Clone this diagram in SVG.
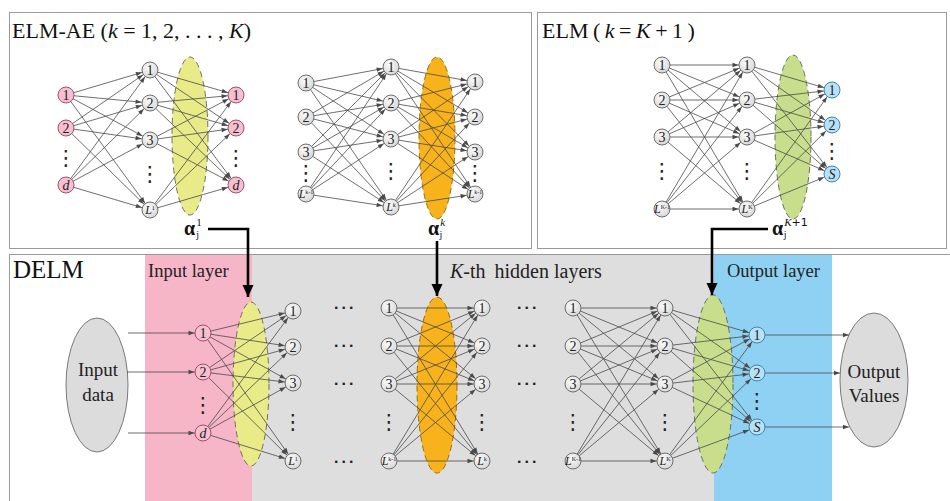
<svg xmlns="http://www.w3.org/2000/svg" width="950" height="501" viewBox="0 0 950 501">
<defs>
<radialGradient id="gg" cx="0.4" cy="0.35" r="0.7">
<stop offset="0" stop-color="#fbfbfb"/>
<stop offset="1" stop-color="#d6d6d6"/>
</radialGradient>
<marker id="ah" markerUnits="userSpaceOnUse" markerWidth="6" markerHeight="4.4" refX="14.5" refY="2.2" orient="auto" overflow="visible">
<path d="M0,0 L6,2.2 L0,4.4 z" fill="#4a4a4a"/>
</marker>
<marker id="ah0" markerUnits="userSpaceOnUse" markerWidth="6" markerHeight="4.4" refX="6" refY="2.2" orient="auto" overflow="visible">
<path d="M0,0 L6,2.2 L0,4.4 z" fill="#4a4a4a"/>
</marker>
<marker id="big" markerUnits="userSpaceOnUse" markerWidth="12" markerHeight="11" refX="12" refY="5.5" orient="auto" overflow="visible">
<path d="M0,0 L12,5.5 L0,11 z" fill="#000"/>
</marker>
</defs>
<style>
.panel{fill:#fff;stroke:#9a9a9a;stroke-width:1}
.ttl{font-family:"Liberation Serif",serif;fill:#111}
.lbl{font-family:"Liberation Serif",serif;fill:#222}
.nd circle{stroke-width:1}
.gr circle{fill:url(#gg);stroke:#6e6e6e}
.pk circle{fill:#f6c0d1;stroke:#a24f6c}
.bl circle{fill:#b9e1f6;stroke:#3d84b1}
.nd text{font-family:"Liberation Serif",serif;font-size:14px;text-anchor:middle;fill:#222}
.nd text.L{font-size:12px;font-style:italic}
.sup{font-size:6px;font-style:normal}
.edges line{stroke:#4a4a4a;stroke-width:0.8;marker-end:url(#ah)}
.edges line.to-ell{marker-end:url(#ah0)}
.yl{fill:#e8eb88;stroke:#707060;stroke-width:1;stroke-dasharray:6 4}
.or{fill:#f8b21c;stroke:#9a6e10;stroke-width:1;stroke-dasharray:6 4}
.gn{fill:#c8de8c;stroke:#66755a;stroke-width:1;stroke-dasharray:6 4}
.vd{font-family:"DejaVu Sans",sans-serif;font-size:21px;text-anchor:middle;fill:#222}
.hd{font-family:"DejaVu Sans",sans-serif;font-size:13px;font-weight:bold;letter-spacing:2.5px;text-anchor:middle;fill:#222}
.io ellipse{fill:#dcdcdc;stroke:#7a7a7a;stroke-width:1}
.io text{font-family:"Liberation Serif",serif;font-size:19px;text-anchor:middle;fill:#222}
.alpha{font-family:"Liberation Serif",serif;fill:#111}
.bold-arrow{fill:none;stroke:#000;stroke-width:2.6;marker-end:url(#big)}
</style>

<!-- panels -->
<rect class="panel" x="9.5" y="12.5" width="522" height="236"/>
<rect class="panel" x="537.5" y="12.5" width="409" height="236"/>
<rect class="panel" x="9.5" y="254.5" width="950" height="260"/>

<!-- layer bands of the DELM panel -->
<rect x="145" y="255" width="107" height="246" fill="#f7b5c8"/>
<rect x="252" y="255" width="462" height="246" fill="#dedede"/>
<rect x="714" y="255" width="118" height="246" fill="#8fd1f2"/>

<!-- titles -->
<text class="ttl" x="12" y="38" font-size="22">ELM-AE (<tspan font-style="italic">k</tspan> = 1, 2, . . . , <tspan font-style="italic">K</tspan>)</text>
<text class="ttl" x="542" y="38" font-size="22" word-spacing="-1">ELM ( <tspan font-style="italic">k</tspan> = <tspan font-style="italic">K</tspan> + 1 )</text>
<text class="ttl" x="13" y="278" font-size="25">DELM</text>
<text class="lbl" x="148" y="277" font-size="18.5">Input layer</text>
<text class="lbl" x="450" y="278" font-size="20"><tspan font-style="italic">K</tspan>-th <tspan dx="4">hidden layers</tspan></text>
<text class="lbl" x="727" y="277" font-size="18.5">Output layer</text>

<!-- weight ellipses -->
<ellipse class="yl" cx="190" cy="136" rx="18" ry="79"/>
<ellipse class="or" cx="437" cy="138" rx="18" ry="81"/>
<ellipse class="gn" cx="793" cy="137" rx="18" ry="82"/>
<ellipse class="yl" cx="251" cy="384" rx="18" ry="82"/>
<ellipse class="or" cx="437" cy="385" rx="20" ry="88"/>
<ellipse class="gn" cx="713" cy="384" rx="20" ry="89"/>

<!-- input / output data -->
<g id="input-data" class="io">
<ellipse cx="97" cy="385" rx="31" ry="67"/>
<text x="98" y="376">Input</text>
<text x="98" y="401">data</text>
</g>
<g id="output-values" class="io">
<ellipse cx="874" cy="380" rx="34" ry="67"/>
<text x="874" y="378">Output</text>
<text x="874" y="402">Values</text>
</g>

<g class="edges">
<!-- ELM-AE k=1: input -> hidden -->
<line x1="66" y1="95" x2="150" y2="70"/><line x1="66" y1="95" x2="150" y2="103"/><line x1="66" y1="95" x2="150" y2="140"/><line x1="66" y1="95" x2="150" y2="210"/>
<line x1="66" y1="128" x2="150" y2="70"/><line x1="66" y1="128" x2="150" y2="103"/><line x1="66" y1="128" x2="150" y2="140"/><line x1="66" y1="128" x2="150" y2="210"/>
<line x1="66" y1="185" x2="150" y2="70"/><line x1="66" y1="185" x2="150" y2="103"/><line x1="66" y1="185" x2="150" y2="140"/><line x1="66" y1="185" x2="150" y2="210"/>
<!-- ELM-AE k=1: hidden -> output -->
<line x1="150" y1="70" x2="236" y2="95"/><line x1="150" y1="70" x2="236" y2="128"/><line x1="150" y1="70" x2="236" y2="185"/>
<line x1="150" y1="103" x2="236" y2="95"/><line x1="150" y1="103" x2="236" y2="128"/><line x1="150" y1="103" x2="236" y2="185"/>
<line x1="150" y1="140" x2="236" y2="95"/><line x1="150" y1="140" x2="236" y2="128"/><line x1="150" y1="140" x2="236" y2="185"/>
<line x1="150" y1="210" x2="236" y2="95"/><line x1="150" y1="210" x2="236" y2="128"/><line x1="150" y1="210" x2="236" y2="185"/>
<!-- ELM-AE k: layer k-1 -> k -->
<line x1="306" y1="83" x2="391" y2="67"/><line x1="306" y1="83" x2="391" y2="103"/><line x1="306" y1="83" x2="391" y2="139"/><line x1="306" y1="83" x2="391" y2="207"/>
<line x1="306" y1="117" x2="391" y2="67"/><line x1="306" y1="117" x2="391" y2="103"/><line x1="306" y1="117" x2="391" y2="139"/><line x1="306" y1="117" x2="391" y2="207"/>
<line x1="306" y1="152" x2="391" y2="67"/><line x1="306" y1="152" x2="391" y2="103"/><line x1="306" y1="152" x2="391" y2="139"/><line x1="306" y1="152" x2="391" y2="207"/>
<line x1="306" y1="194" x2="391" y2="67"/><line x1="306" y1="194" x2="391" y2="103"/><line x1="306" y1="194" x2="391" y2="139"/><line x1="306" y1="194" x2="391" y2="207"/>
<!-- ELM-AE k: layer k -> reconstruction -->
<line x1="391" y1="67" x2="475" y2="82"/><line x1="391" y1="67" x2="475" y2="117"/><line x1="391" y1="67" x2="475" y2="152"/><line x1="391" y1="67" x2="475" y2="194"/>
<line x1="391" y1="103" x2="475" y2="82"/><line x1="391" y1="103" x2="475" y2="117"/><line x1="391" y1="103" x2="475" y2="152"/><line x1="391" y1="103" x2="475" y2="194"/>
<line x1="391" y1="139" x2="475" y2="82"/><line x1="391" y1="139" x2="475" y2="117"/><line x1="391" y1="139" x2="475" y2="152"/><line x1="391" y1="139" x2="475" y2="194"/>
<line x1="391" y1="207" x2="475" y2="82"/><line x1="391" y1="207" x2="475" y2="117"/><line x1="391" y1="207" x2="475" y2="152"/><line x1="391" y1="207" x2="475" y2="194"/>
<!-- ELM k=K+1 -->
<line x1="662" y1="65" x2="747" y2="65"/><line x1="662" y1="65" x2="747" y2="100"/><line x1="662" y1="65" x2="747" y2="137"/><line x1="662" y1="65" x2="747" y2="209"/>
<line x1="662" y1="100" x2="747" y2="65"/><line x1="662" y1="100" x2="747" y2="100"/><line x1="662" y1="100" x2="747" y2="137"/><line x1="662" y1="100" x2="747" y2="209"/>
<line x1="662" y1="137" x2="747" y2="65"/><line x1="662" y1="137" x2="747" y2="100"/><line x1="662" y1="137" x2="747" y2="137"/><line x1="662" y1="137" x2="747" y2="209"/>
<line x1="662" y1="209" x2="747" y2="65"/><line x1="662" y1="209" x2="747" y2="100"/><line x1="662" y1="209" x2="747" y2="137"/><line x1="662" y1="209" x2="747" y2="209"/>
<line x1="747" y1="65" x2="832" y2="90"/><line x1="747" y1="65" x2="832" y2="125"/><line x1="747" y1="65" x2="832" y2="174"/>
<line x1="747" y1="100" x2="832" y2="90"/><line x1="747" y1="100" x2="832" y2="125"/><line x1="747" y1="100" x2="832" y2="174"/>
<line x1="747" y1="137" x2="832" y2="90"/><line x1="747" y1="137" x2="832" y2="125"/><line x1="747" y1="137" x2="832" y2="174"/>
<line x1="747" y1="209" x2="832" y2="90"/><line x1="747" y1="209" x2="832" y2="125"/><line x1="747" y1="209" x2="832" y2="174"/>
<!-- DELM: data -> input layer -->
<line x1="128" y1="333" x2="203" y2="333"/><line x1="127" y1="372" x2="203" y2="372"/><line x1="128" y1="433" x2="203" y2="433"/>
<!-- DELM: input layer -> hidden 1 -->
<line x1="203" y1="333" x2="293" y2="311"/><line x1="203" y1="333" x2="293" y2="347"/><line x1="203" y1="333" x2="293" y2="383"/><line x1="203" y1="333" x2="293" y2="461"/>
<line x1="203" y1="372" x2="293" y2="311"/><line x1="203" y1="372" x2="293" y2="347"/><line x1="203" y1="372" x2="293" y2="383"/><line x1="203" y1="372" x2="293" y2="461"/>
<line x1="203" y1="433" x2="293" y2="311"/><line x1="203" y1="433" x2="293" y2="347"/><line x1="203" y1="433" x2="293" y2="383"/><line x1="203" y1="433" x2="293" y2="461"/>
<!-- DELM: hidden k-1 -> k -->
<line x1="389" y1="308" x2="482" y2="308"/><line x1="389" y1="308" x2="482" y2="346"/><line x1="389" y1="308" x2="482" y2="384"/><line x1="389" y1="308" x2="482" y2="461"/>
<line x1="389" y1="346" x2="482" y2="308"/><line x1="389" y1="346" x2="482" y2="346"/><line x1="389" y1="346" x2="482" y2="384"/><line x1="389" y1="346" x2="482" y2="461"/>
<line x1="389" y1="384" x2="482" y2="308"/><line x1="389" y1="384" x2="482" y2="346"/><line x1="389" y1="384" x2="482" y2="384"/><line x1="389" y1="384" x2="482" y2="461"/>
<line x1="389" y1="461" x2="482" y2="308"/><line x1="389" y1="461" x2="482" y2="346"/><line x1="389" y1="461" x2="482" y2="384"/><line x1="389" y1="461" x2="482" y2="461"/>
<!-- DELM: hidden K-1 -> K -->
<line x1="573" y1="308" x2="665" y2="308"/><line x1="573" y1="308" x2="665" y2="346"/><line x1="573" y1="308" x2="665" y2="384"/><line x1="573" y1="308" x2="665" y2="461"/>
<line x1="573" y1="346" x2="665" y2="308"/><line x1="573" y1="346" x2="665" y2="346"/><line x1="573" y1="346" x2="665" y2="384"/><line x1="573" y1="346" x2="665" y2="461"/>
<line x1="573" y1="384" x2="665" y2="308"/><line x1="573" y1="384" x2="665" y2="346"/><line x1="573" y1="384" x2="665" y2="384"/><line x1="573" y1="384" x2="665" y2="461"/>
<line x1="573" y1="461" x2="665" y2="308"/><line x1="573" y1="461" x2="665" y2="346"/><line x1="573" y1="461" x2="665" y2="384"/><line x1="573" y1="461" x2="665" y2="461"/>
<!-- DELM: hidden K -> output layer -->
<line x1="665" y1="308" x2="757" y2="335"/><line x1="665" y1="308" x2="757" y2="373"/><line x1="665" y1="308" x2="757" y2="427"/>
<line x1="665" y1="346" x2="757" y2="335"/><line x1="665" y1="346" x2="757" y2="373"/><line x1="665" y1="346" x2="757" y2="427"/>
<line x1="665" y1="384" x2="757" y2="335"/><line x1="665" y1="384" x2="757" y2="373"/><line x1="665" y1="384" x2="757" y2="427"/>
<line x1="665" y1="461" x2="757" y2="335"/><line x1="665" y1="461" x2="757" y2="373"/><line x1="665" y1="461" x2="757" y2="427"/>
<!-- DELM: output layer -> values -->
<line class="to-ell" x1="765" y1="335" x2="849" y2="335"/><line class="to-ell" x1="765" y1="373" x2="840" y2="373"/><line class="to-ell" x1="765" y1="427" x2="849" y2="427"/>
</g>

<!-- ELM-AE k=1 nodes -->
<g id="ae1-in-1" class="nd pk"><circle cx="66" cy="95" r="8"/><text x="66" y="100">1</text></g>
<g id="ae1-in-2" class="nd pk"><circle cx="66" cy="128" r="8"/><text x="66" y="133">2</text></g>
<g id="ae1-in-d" class="nd pk"><circle cx="66" cy="185" r="8"/><text x="66" y="190" font-style="italic">d</text></g>
<g id="ae1-h-1" class="nd gr"><circle cx="150" cy="70" r="8"/><text x="150" y="75">1</text></g>
<g id="ae1-h-2" class="nd gr"><circle cx="150" cy="103" r="8"/><text x="150" y="108">2</text></g>
<g id="ae1-h-3" class="nd gr"><circle cx="150" cy="140" r="8"/><text x="150" y="145">3</text></g>
<g id="ae1-h-L" class="nd gr"><circle cx="150" cy="210" r="8"/><text class="L" x="150" y="214">L<tspan class="sup" dy="-4">1</tspan></text></g>
<g id="ae1-out-1" class="nd pk"><circle cx="236" cy="95" r="8"/><text x="236" y="100">1</text></g>
<g id="ae1-out-2" class="nd pk"><circle cx="236" cy="128" r="8"/><text x="236" y="133">2</text></g>
<g id="ae1-out-d" class="nd pk"><circle cx="236" cy="185" r="8"/><text x="236" y="190" font-style="italic">d</text></g>

<!-- ELM-AE k nodes -->
<g id="aek-in-1" class="nd gr"><circle cx="306" cy="83" r="8"/><text x="306" y="88">1</text></g>
<g id="aek-in-2" class="nd gr"><circle cx="306" cy="117" r="8"/><text x="306" y="122">2</text></g>
<g id="aek-in-3" class="nd gr"><circle cx="306" cy="152" r="8"/><text x="306" y="157">3</text></g>
<g id="aek-in-L" class="nd gr"><circle cx="306" cy="194" r="8"/><text class="L" x="306" y="198">L<tspan class="sup" dy="-4">k-1</tspan></text></g>
<g id="aek-h-1" class="nd gr"><circle cx="391" cy="67" r="8"/><text x="391" y="72">1</text></g>
<g id="aek-h-2" class="nd gr"><circle cx="391" cy="103" r="8"/><text x="391" y="108">2</text></g>
<g id="aek-h-3" class="nd gr"><circle cx="391" cy="139" r="8"/><text x="391" y="144">3</text></g>
<g id="aek-h-L" class="nd gr"><circle cx="391" cy="207" r="8"/><text class="L" x="391" y="211">L<tspan class="sup" dy="-4">k</tspan></text></g>
<g id="aek-out-1" class="nd gr"><circle cx="475" cy="82" r="8"/><text x="475" y="87">1</text></g>
<g id="aek-out-2" class="nd gr"><circle cx="475" cy="117" r="8"/><text x="475" y="122">2</text></g>
<g id="aek-out-3" class="nd gr"><circle cx="475" cy="152" r="8"/><text x="475" y="157">3</text></g>
<g id="aek-out-L" class="nd gr"><circle cx="475" cy="194" r="8"/><text class="L" x="475" y="198">L<tspan class="sup" dy="-4">k-1</tspan></text></g>

<!-- ELM k=K+1 nodes -->
<g id="elm-in-1" class="nd gr"><circle cx="662" cy="65" r="8"/><text x="662" y="70">1</text></g>
<g id="elm-in-2" class="nd gr"><circle cx="662" cy="100" r="8"/><text x="662" y="105">2</text></g>
<g id="elm-in-3" class="nd gr"><circle cx="662" cy="137" r="8"/><text x="662" y="142">3</text></g>
<g id="elm-in-L" class="nd gr"><circle cx="662" cy="209" r="8"/><text class="L" x="662" y="213">L<tspan class="sup" dy="-4">K-1</tspan></text></g>
<g id="elm-h-1" class="nd gr"><circle cx="747" cy="65" r="8"/><text x="747" y="70">1</text></g>
<g id="elm-h-2" class="nd gr"><circle cx="747" cy="100" r="8"/><text x="747" y="105">2</text></g>
<g id="elm-h-3" class="nd gr"><circle cx="747" cy="137" r="8"/><text x="747" y="142">3</text></g>
<g id="elm-h-L" class="nd gr"><circle cx="747" cy="209" r="8"/><text class="L" x="747" y="213">L<tspan class="sup" dy="-4">K</tspan></text></g>
<g id="elm-out-1" class="nd bl"><circle cx="832" cy="90" r="8"/><text x="832" y="95">1</text></g>
<g id="elm-out-2" class="nd bl"><circle cx="832" cy="125" r="8"/><text x="832" y="130">2</text></g>
<g id="elm-out-S" class="nd bl"><circle cx="832" cy="174" r="8"/><text x="832" y="179" font-style="italic">S</text></g>

<!-- DELM nodes -->
<g id="d-in-1" class="nd pk"><circle cx="203" cy="333" r="8"/><text x="203" y="338">1</text></g>
<g id="d-in-2" class="nd pk"><circle cx="203" cy="372" r="8"/><text x="203" y="377">2</text></g>
<g id="d-in-d" class="nd pk"><circle cx="203" cy="433" r="8"/><text x="203" y="438" font-style="italic">d</text></g>
<g id="d-h1-1" class="nd gr"><circle cx="293" cy="311" r="8"/><text x="293" y="316">1</text></g>
<g id="d-h1-2" class="nd gr"><circle cx="293" cy="347" r="8"/><text x="293" y="352">2</text></g>
<g id="d-h1-3" class="nd gr"><circle cx="293" cy="383" r="8"/><text x="293" y="388">3</text></g>
<g id="d-h1-L" class="nd gr"><circle cx="293" cy="461" r="8"/><text class="L" x="293" y="465">L<tspan class="sup" dy="-4">1</tspan></text></g>
<g id="d-hk1-1" class="nd gr"><circle cx="389" cy="308" r="8"/><text x="389" y="313">1</text></g>
<g id="d-hk1-2" class="nd gr"><circle cx="389" cy="346" r="8"/><text x="389" y="351">2</text></g>
<g id="d-hk1-3" class="nd gr"><circle cx="389" cy="384" r="8"/><text x="389" y="389">3</text></g>
<g id="d-hk1-L" class="nd gr"><circle cx="389" cy="461" r="8"/><text class="L" x="389" y="465">L<tspan class="sup" dy="-4">k-1</tspan></text></g>
<g id="d-hk-1" class="nd gr"><circle cx="482" cy="308" r="8"/><text x="482" y="313">1</text></g>
<g id="d-hk-2" class="nd gr"><circle cx="482" cy="346" r="8"/><text x="482" y="351">2</text></g>
<g id="d-hk-3" class="nd gr"><circle cx="482" cy="384" r="8"/><text x="482" y="389">3</text></g>
<g id="d-hk-L" class="nd gr"><circle cx="482" cy="461" r="8"/><text class="L" x="482" y="465">L<tspan class="sup" dy="-4">k</tspan></text></g>
<g id="d-hK1-1" class="nd gr"><circle cx="573" cy="308" r="8"/><text x="573" y="313">1</text></g>
<g id="d-hK1-2" class="nd gr"><circle cx="573" cy="346" r="8"/><text x="573" y="351">2</text></g>
<g id="d-hK1-3" class="nd gr"><circle cx="573" cy="384" r="8"/><text x="573" y="389">3</text></g>
<g id="d-hK1-L" class="nd gr"><circle cx="573" cy="461" r="8"/><text class="L" x="573" y="465">L<tspan class="sup" dy="-4">K-1</tspan></text></g>
<g id="d-hK-1" class="nd gr"><circle cx="665" cy="308" r="8"/><text x="665" y="313">1</text></g>
<g id="d-hK-2" class="nd gr"><circle cx="665" cy="346" r="8"/><text x="665" y="351">2</text></g>
<g id="d-hK-3" class="nd gr"><circle cx="665" cy="384" r="8"/><text x="665" y="389">3</text></g>
<g id="d-hK-L" class="nd gr"><circle cx="665" cy="461" r="8"/><text class="L" x="665" y="465">L<tspan class="sup" dy="-4">K</tspan></text></g>
<g id="d-out-1" class="nd bl"><circle cx="757" cy="335" r="8"/><text x="757" y="340">1</text></g>
<g id="d-out-2" class="nd bl"><circle cx="757" cy="373" r="8"/><text x="757" y="378">2</text></g>
<g id="d-out-S" class="nd bl"><circle cx="757" cy="427" r="8"/><text x="757" y="432" font-style="italic">S</text></g>

<!-- vertical ellipsis marks -->
<text class="vd" x="66" y="165">⋮</text>
<text class="vd" x="150" y="181">⋮</text>
<text class="vd" x="236" y="165">⋮</text>
<text class="vd" x="306" y="180">⋮</text>
<text class="vd" x="391" y="178">⋮</text>
<text class="vd" x="475" y="180">⋮</text>
<text class="vd" x="662" y="178">⋮</text>
<text class="vd" x="747" y="178">⋮</text>
<text class="vd" x="832" y="158">⋮</text>
<text class="vd" x="203" y="412">⋮</text>
<text class="vd" x="293" y="429">⋮</text>
<text class="vd" x="389" y="429">⋮</text>
<text class="vd" x="482" y="429">⋮</text>
<text class="vd" x="573" y="429">⋮</text>
<text class="vd" x="665" y="429">⋮</text>
<text class="vd" x="757" y="408">⋮</text>

<!-- horizontal ellipsis marks -->
<text class="hd" x="345" y="312">···</text>
<text class="hd" x="345" y="350">···</text>
<text class="hd" x="345" y="388">···</text>
<text class="hd" x="345" y="466">···</text>
<text class="hd" x="528" y="312">···</text>
<text class="hd" x="528" y="350">···</text>
<text class="hd" x="528" y="388">···</text>
<text class="hd" x="528" y="466">···</text>

<!-- output weight labels -->
<text class="alpha" x="184" y="235" font-size="20"><tspan font-weight="bold">α</tspan><tspan font-size="11" dx="1" dy="-9">1</tspan><tspan font-size="10" dx="-5.5" dy="12">j</tspan></text>
<text class="alpha" x="428" y="235" font-size="20"><tspan font-weight="bold">α</tspan><tspan font-size="11" font-style="italic" dx="1" dy="-9">k</tspan><tspan font-size="10" dx="-5.5" dy="12">j</tspan></text>
<text class="alpha" x="772" y="235" font-size="20"><tspan font-weight="bold">α</tspan><tspan font-size="11" font-style="italic" dx="1" dy="-9">K</tspan><tspan font-size="11" font-family="DejaVu Sans, sans-serif">+1</tspan><tspan font-size="10" dx="-24" dy="12">j</tspan></text>

<!-- weight transfer arrows -->
<g id="transfers">
<path class="bold-arrow" d="M208 229 H248 V297"/>
<path class="bold-arrow" d="M437 241 V296"/>
<path class="bold-arrow" d="M768 229 H712 V295"/>
</g>
</svg>
